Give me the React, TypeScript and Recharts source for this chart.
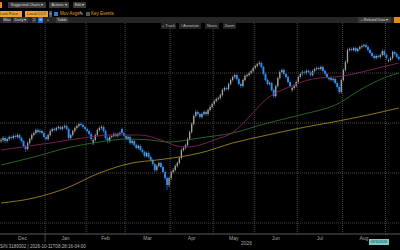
import React from 'react';
import { ComposedChart, Bar, Line, XAxis, YAxis, ReferenceLine } from 'recharts';

// trading months on screen and how many sessions each one holds
const months = ['Dec', 'Jan', 'Feb', 'Mar', 'Apr', 'May', 'Jun', 'Jul', 'Aug', 'Sep'];
const monthDays = [22, 20, 19, 22, 21, 20, 21, 22, 21, 7];
const priceGrid = [5600, 5800, 6000, 6200];

// daily candles: [open, high, low, close]
const ohlc: [number, number, number, number][] = [
  // Dec
  [5928, 5940, 5920, 5932], [5932, 5948, 5924, 5940], [5940, 5946, 5920, 5928], [5928, 5942, 5922, 5936],
  [5936, 5950, 5930, 5944], [5944, 5950, 5934, 5940], [5940, 5954, 5934, 5948], [5948, 5954, 5938, 5944],
  [5944, 5958, 5938, 5952], [5952, 5958, 5934, 5940], [5940, 5946, 5922, 5928], [5928, 5932, 5902, 5908],
  [5908, 5912, 5884, 5896], [5896, 5926, 5890, 5920], [5920, 5942, 5914, 5936], [5936, 5958, 5930, 5952],
  [5952, 5966, 5946, 5960], [5960, 5978, 5954, 5972], [5972, 5978, 5958, 5964], [5964, 5974, 5958, 5968],
  [5968, 5974, 5954, 5960], [5960, 5966, 5938, 5944],
  // Jan
  [5944, 5950, 5930, 5936], [5936, 5958, 5930, 5952], [5952, 5974, 5946, 5968], [5968, 5982, 5962, 5976],
  [5976, 5982, 5966, 5972], [5972, 5986, 5966, 5980], [5980, 5990, 5974, 5984], [5984, 5990, 5970, 5976],
  [5976, 5990, 5970, 5984], [5984, 5994, 5978, 5988], [5988, 5994, 5970, 5976], [5976, 5982, 5932, 5940],
  [5940, 5958, 5934, 5952], [5952, 5974, 5946, 5968], [5968, 5986, 5962, 5980], [5980, 5994, 5974, 5988],
  [5988, 6002, 5982, 5996], [5996, 6002, 5986, 5992], [5992, 5998, 5978, 5984], [5984, 5990, 5970, 5976],
  // Feb
  [5976, 5982, 5962, 5968], [5968, 5974, 5950, 5956], [5956, 5962, 5928, 5936], [5920, 5938, 5912, 5932],
  [5932, 5958, 5926, 5952], [5952, 5978, 5946, 5972], [5972, 5986, 5966, 5980], [5980, 5992, 5974, 5984],
  [5984, 5990, 5962, 5968], [5968, 5974, 5932, 5940], [5940, 5946, 5918, 5928], [5928, 5950, 5922, 5944],
  [5944, 5954, 5938, 5948], [5948, 5962, 5942, 5956], [5956, 5962, 5942, 5948], [5948, 5962, 5942, 5956],
  [5956, 5966, 5950, 5960], [5976, 5982, 5954, 5960], [5960, 5966, 5942, 5948],
  // Mar
  [5948, 5954, 5930, 5936], [5936, 5950, 5930, 5944], [5944, 5950, 5914, 5920], [5920, 5934, 5914, 5928],
  [5928, 5934, 5906, 5912], [5912, 5918, 5894, 5900], [5900, 5914, 5894, 5908], [5908, 5914, 5886, 5892],
  [5892, 5898, 5878, 5884], [5884, 5890, 5862, 5868], [5868, 5886, 5862, 5880], [5880, 5886, 5858, 5864],
  [5864, 5870, 5846, 5852], [5852, 5858, 5830, 5836], [5836, 5842, 5804, 5812], [5812, 5834, 5806, 5828],
  [5828, 5846, 5822, 5840], [5840, 5846, 5818, 5824], [5824, 5830, 5798, 5804], [5804, 5810, 5772, 5780],
  [5780, 5786, 5732, 5752], [5752, 5786, 5744, 5780],
  // Apr
  [5780, 5810, 5772, 5804], [5804, 5820, 5798, 5812], [5812, 5834, 5806, 5828], [5828, 5846, 5822, 5840],
  [5840, 5866, 5834, 5860], [5860, 5898, 5854, 5892], [5892, 5906, 5886, 5900], [5900, 5918, 5894, 5912],
  [5912, 5942, 5906, 5936], [5936, 5970, 5930, 5964], [5964, 6002, 5958, 5996], [5996, 6034, 5990, 6028],
  [6028, 6052, 6022, 6044], [6044, 6050, 6030, 6036], [6036, 6042, 6018, 6024], [6024, 6042, 6018, 6036],
  [6036, 6050, 6030, 6044], [6044, 6050, 6028, 6036], [6036, 6058, 6030, 6052], [6052, 6070, 6046, 6064],
  [6064, 6082, 6058, 6076],
  // May
  [6076, 6094, 6070, 6088], [6088, 6102, 6082, 6096], [6096, 6106, 6090, 6100], [6100, 6118, 6094, 6112],
  [6112, 6138, 6106, 6132], [6132, 6146, 6126, 6140], [6140, 6146, 6130, 6136], [6136, 6162, 6130, 6156],
  [6156, 6178, 6150, 6172], [6172, 6190, 6166, 6184], [6184, 6198, 6178, 6192], [6192, 6198, 6170, 6176],
  [6176, 6182, 6150, 6156], [6156, 6162, 6140, 6148], [6148, 6178, 6142, 6172], [6172, 6194, 6166, 6188],
  [6188, 6198, 6182, 6192], [6192, 6206, 6186, 6200], [6200, 6214, 6194, 6208], [6208, 6226, 6202, 6220],
  // Jun
  [6220, 6234, 6214, 6228], [6228, 6242, 6222, 6236], [6236, 6248, 6230, 6240], [6240, 6246, 6218, 6224],
  [6224, 6230, 6190, 6196], [6196, 6202, 6166, 6172], [6172, 6178, 6150, 6156], [6156, 6166, 6150, 6160],
  [6160, 6166, 6126, 6132], [6132, 6138, 6100, 6108], [6108, 6154, 6102, 6148], [6148, 6186, 6142, 6180],
  [6180, 6210, 6174, 6204], [6204, 6218, 6198, 6212], [6212, 6218, 6190, 6196], [6196, 6202, 6178, 6184],
  [6184, 6190, 6158, 6164], [6164, 6170, 6142, 6148], [6132, 6146, 6124, 6140], [6140, 6154, 6134, 6148],
  [6148, 6170, 6142, 6164],
  // Jul
  [6164, 6190, 6158, 6184], [6184, 6202, 6178, 6196], [6196, 6210, 6190, 6204], [6204, 6210, 6194, 6200],
  [6200, 6214, 6194, 6208], [6208, 6214, 6198, 6204], [6204, 6210, 6186, 6192], [6192, 6214, 6186, 6208],
  [6208, 6222, 6202, 6216], [6216, 6226, 6210, 6220], [6220, 6226, 6210, 6216], [6216, 6230, 6210, 6224],
  [6224, 6230, 6202, 6208], [6208, 6214, 6190, 6196], [6196, 6202, 6178, 6184], [6176, 6186, 6170, 6180],
  [6180, 6186, 6166, 6172], [6172, 6182, 6166, 6176], [6176, 6182, 6154, 6160], [6160, 6166, 6138, 6144],
  [6144, 6150, 6116, 6124], [6124, 6178, 6118, 6172],
  // Aug
  [6172, 6218, 6166, 6212], [6212, 6250, 6206, 6244], [6244, 6298, 6238, 6292], [6292, 6302, 6286, 6296],
  [6296, 6302, 6286, 6292], [6292, 6306, 6286, 6300], [6300, 6306, 6282, 6288], [6288, 6302, 6282, 6296],
  [6296, 6310, 6290, 6304], [6304, 6314, 6298, 6308], [6308, 6318, 6302, 6312], [6312, 6318, 6298, 6304],
  [6304, 6310, 6286, 6292], [6292, 6298, 6274, 6280], [6280, 6286, 6262, 6268], [6268, 6274, 6254, 6260],
  [6260, 6274, 6254, 6268], [6268, 6274, 6258, 6264], [6264, 6278, 6258, 6272], [6272, 6294, 6266, 6288],
  [6288, 6294, 6266, 6272],
  // Sep
  [6272, 6278, 6254, 6260], [6248, 6258, 6242, 6252], [6252, 6266, 6246, 6260], [6260, 6290, 6254, 6284],
  [6284, 6290, 6270, 6276], [6276, 6282, 6258, 6264], [6264, 6270, 6250, 6256],
];

// moving averages, [session index, value]
const ma50: [number, number][] = [
  [0, 5892], [24, 5920], [43, 5944], [53, 5952], [68, 5952], [78, 5932], [87, 5906], [91, 5904],
  [97, 5912], [104, 5932], [113, 5962], [121, 6024], [130, 6100], [140, 6142], [152, 6176],
  [167, 6188], [180, 6212], [194, 6240],
];
const ma100: [number, number][] = [
  [0, 5832], [16, 5864], [32, 5900], [48, 5924], [61, 5936], [73, 5932], [82, 5924], [91, 5932],
  [97, 5940], [113, 5960], [130, 6000], [146, 6032], [165, 6080], [175, 6132], [188, 6184], [194, 6200],
];
const ma200: [number, number][] = [
  [0, 5680], [16, 5700], [32, 5740], [48, 5800], [64, 5840], [76, 5852], [87, 5864], [97, 5880],
  [113, 5920], [130, 5952], [146, 5980], [162, 6004], [179, 6032], [194, 6060],
];

const starts = monthDays.map((_, k) => monthDays.slice(0, k).reduce((a, b) => a + b, 0));
const boundaries = starts.slice(1).map((s) => s - 0.5);
const mids = starts.slice(0, 9).map((s, k) => s + (monthDays[k] - 1) / 2);
const yearStart = boundaries[0];

const candles = ohlc.map(([o, h, l, c], i) => ({ i, range: [l, h], o, h, l, c }));
const toPts = (arr: [number, number][]) => arr.map(([i, v]) => ({ i, v }));

const FONT = '"Liberation Sans", Arial, sans-serif';
const GRID = '#474747';

const Candle = (props: any) => {
  const { x, y, width, height, payload } = props;
  const { o, h, l, c } = payload;
  const top = Math.min(y, y + height);
  const span = Math.abs(height) || 1;
  const k = span / (h - l);
  const py = (v: number) => top + (h - v) * k;
  const cx = x + width / 2;
  const up = c >= o;
  const color = up ? '#a4a4a4' : '#2a8ef5';
  const bw = up ? 1.3 : 1.9;
  const bTop = py(Math.max(o, c));
  const bH = Math.max(1, Math.abs(py(o) - py(c)));
  return (
    <g>
      <line x1={cx} x2={cx} y1={top} y2={top + span} stroke={color} strokeWidth={0.6} />
      <rect x={cx - bw / 2} y={bTop} width={bw} height={bH} fill={color} />
    </g>
  );
};

const MonthTick = (props: any) => {
  const { x, y, payload } = props;
  if (payload.value === yearStart) {
    return <line x1={x} x2={x} y1={y - 2} y2={y + 6} stroke="#5a5a5a" strokeWidth={0.8} />;
  }
  const k = mids.indexOf(payload.value);
  return (
    <text x={x} y={y + 4} textAnchor="middle" fill="#a0a0a0" fontSize={5} fontFamily={FONT}>
      {months[k]}
    </text>
  );
};

const Btn = ({ left, top, w, h = 6, bg = '#3a3a3a', color = '#d8d8d8', size = 4, children }: any) => (
  <div
    style={{
      position: 'absolute', left, top, width: w, height: h, background: bg, color,
      fontSize: size, lineHeight: `${h}px`, textAlign: 'center', whiteSpace: 'nowrap', overflow: 'hidden',
    }}
  >
    {children}
  </div>
);

const Label = ({ left, top, color, size = 4.5, children }: any) => (
  <div style={{ position: 'absolute', left, top, color, fontSize: size, lineHeight: '6px', whiteSpace: 'nowrap' }}>
    {children}
  </div>
);

export default function App() {
  return (
    <div
      style={{
        position: 'fixed', left: 0, top: 0, width: 400, height: 250, background: '#000',
        overflow: 'hidden', fontFamily: FONT,
      }}
    >
      <ComposedChart
        width={400}
        height={250}
        data={candles}
        margin={{ top: 22, right: 0, bottom: 4, left: 0 }}
        style={{ position: 'absolute', left: 0, top: 0 }}
      >
        <XAxis
          dataKey="i"
          type="number"
          domain={[-0.5, 194.6]}
          allowDataOverflow
          ticks={[...mids, yearStart]}
          interval={0}
          tick={<MonthTick />}
          tickLine={false}
          tickSize={0}
          tickMargin={2}
          height={12}
          axisLine={{ stroke: '#5a5a5a', strokeWidth: 1 }}
        />
        <YAxis hide domain={[5556, 6404]} allowDataOverflow />
        {priceGrid.map((p) => (
          <ReferenceLine key={p} y={p} stroke={GRID} strokeDasharray="1 1" strokeWidth={1} />
        ))}
        {boundaries.map((b) => (
          <ReferenceLine key={b} x={b} stroke={GRID} strokeDasharray="1 1" strokeWidth={1} />
        ))}
        <Line data={toPts(ma200)} dataKey="v" type="monotone" stroke="#9c861c" strokeWidth={0.9} dot={false} isAnimationActive={false} />
        <Line data={toPts(ma100)} dataKey="v" type="monotone" stroke="#2c6b2c" strokeWidth={0.9} dot={false} isAnimationActive={false} />
        <Line data={toPts(ma50)} dataKey="v" type="monotone" stroke="#82205f" strokeWidth={0.9} dot={false} isAnimationActive={false} />
        <Bar dataKey="range" barSize={2} shape={<Candle />} isAnimationActive={false} />
      </ComposedChart>

      {/* top toolbar */}
      <Btn left={0} top={2} w={2} bg="#e08a1e" />
      <Btn left={8} top={2} w={38} size={3.7}>Suggested Charts ▾</Btn>
      <Btn left={49} top={2} w={20} size={3.7}>Actions ▾</Btn>
      <Btn left={73} top={2} w={13} size={3.7}>Edit ▾</Btn>

      <Btn left={-4} top={11} w={26} bg="#f0a030" color="#3a2200">Last Price</Btn>
      <Btn left={25} top={11} w={23} bg="#f0a030" color="#3a2200">Local CCY</Btn>
      <Btn left={49} top={11} w={3} bg="#555" size={3}>▾</Btn>
      <div style={{ position: 'absolute', left: 54, top: 12, width: 4, height: 4, background: '#2a7ad8' }} />
      <Label left={60} top={11} color="#e8a020">Mov Avgs</Label>
      <Label left={79} top={11} color="#d8d8d8">✎</Label>
      <div style={{ position: 'absolute', left: 86, top: 12, width: 4, height: 4, background: '#555' }} />
      <Label left={91} top={11} color="#e8a020">Key Events</Label>

      <div style={{ position: 'absolute', left: 0, top: 17, width: 400, height: 6, background: '#262626' }} />
      <Btn left={3} top={17} w={8}>Max</Btn>
      <Btn left={13} top={17} w={15}>Daily ▾</Btn>
      <Btn left={32} top={17} w={4}>□</Btn>
      <Btn left={38} top={17} w={5} bg="#1f6fd0">⊞</Btn>
      <Btn left={46} top={17} w={4} bg="#262626">+</Btn>
      <Btn left={56} top={17} w={12}>Table</Btn>
      <Btn left={358} top={17} w={33} size={3.7}>+ Related Data ▾</Btn>
      <Btn left={394} top={17} w={6} bg="#e08a1e" />

      <Btn left={161} top={23} w={15} bg="#222" color="#bbb">+ Track</Btn>
      <Btn left={179} top={23} w={22} bg="#222" color="#bbb">/ Annotate</Btn>
      <Btn left={205} top={23} w={14} bg="#222" color="#bbb">News</Btn>
      <Btn left={223} top={23} w={13} bg="#222" color="#bbb">Zoom</Btn>

      {/* footer */}
      <Label left={241} top={240} color="#a0a0a0" size={5}>2026</Label>
      <Label left={0} top={244} color="#b8b8b8" size={4.5}>S/N 3189302 | 2026-10-11T08:28:16-04:00</Label>
      <Btn left={369} top={239} w={20} h={6} bg="#7cc9c9" color="#0d3a3a" size={3.3}>09/11/2026</Btn>
    </div>
  );
}
